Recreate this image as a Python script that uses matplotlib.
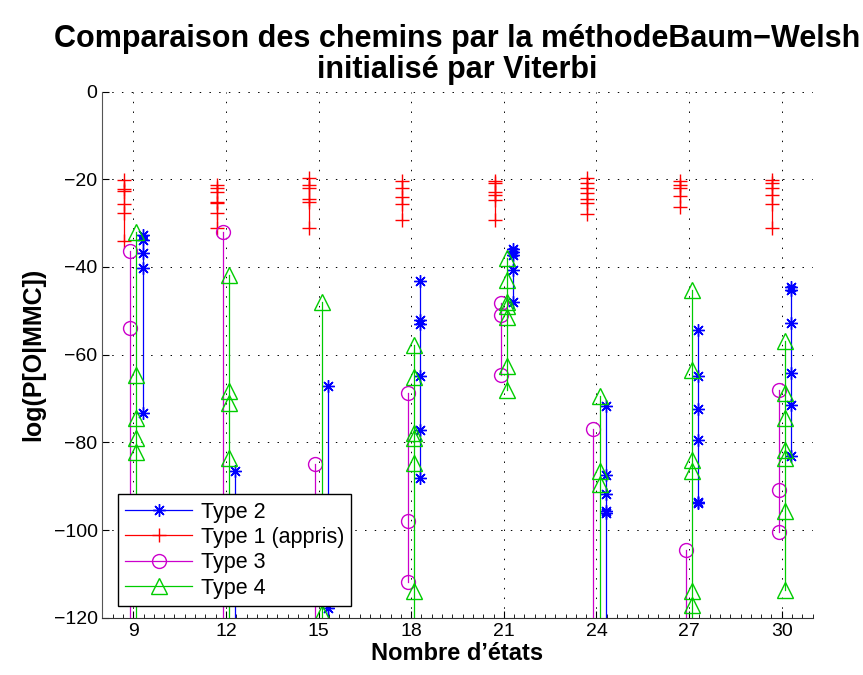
import matplotlib
matplotlib.use("Agg")
import matplotlib.pyplot as plt
from matplotlib.ticker import MultipleLocator

plt.rc('font', family='Liberation Sans', size=14)
plt.rc('xtick', labelsize=14)
plt.rc('ytick', labelsize=14)

""" nombre d'etats teste """
nb_etats = [9, 12, 15, 18, 21, 24, 27, 30]

""" log vraisemblance pour chaque type de chemin, une liste par nombre d'etats
(-150 : valeurs hors du graphe, sous -120) """
type2 = [[-32.7, -33.9, -36.9, -40.3, -73.3],
         [-86.5, -150],
         [-67.2, -117.7, -150],
         [-43.3, -52.1, -53.1, -64.8, -77.3, -88.1],
         [-36.0, -36.5, -37.3, -40.7, -48.0],
         [-71.7, -87.4, -91.9, -95.7, -96.1, -150],
         [-54.4, -64.8, -72.3, -79.4, -93.5, -93.9],
         [-44.5, -45.2, -52.8, -64.2, -71.4, -83.2]]

type1 = [[-20.2, -22.2, -22.7, -25.6, -27.7, -34.1],
         [-21.3, -22.1, -22.8, -25.1, -25.5, -27.6, -31.2],
         [-19.8, -21.3, -21.9, -24.5, -25.1, -31.0],
         [-20.4, -22.1, -24.0, -25.7, -29.3],
         [-20.4, -20.9, -22.8, -23.6, -24.7, -29.3],
         [-19.8, -20.9, -22.1, -23.2, -24.4, -25.5, -28.0],
         [-20.4, -21.3, -21.9, -23.8, -26.4],
         [-20.2, -20.9, -22.1, -23.6, -25.7, -31.0]]

type3 = [[-36.3, -54.0, -150],
         [-32.1, -150],
         [-84.9, -150],
         [-68.8, -98.0, -111.9],
         [-48.3, -50.9, -64.6],
         [-77.0, -150],
         [-104.6, -150],
         [-68.0, -90.9, -100.5]]

type4 = [[-32.1, -64.6, -74.5, -79.0, -82.2, -150],
         [-41.8, -68.4, -71.0, -83.6, -150],
         [-47.9, -119.0, -150],
         [-57.8, -65.2, -77.9, -79.0, -84.7, -113.9, -150],
         [-38.0, -43.0, -47.9, -49.0, -51.3, -62.7, -68.0],
         [-69.5, -86.6, -89.6, -150],
         [-45.3, -63.5, -84.0, -86.6, -113.9, -117.0, -150],
         [-57.0, -68.8, -74.5, -81.7, -83.6, -95.7, -113.6]]

labels = ['Type 2', 'Type 1 (appris)', 'Type 3', 'Type 4']

fig = plt.figure(figsize=(8.63, 6.75), dpi=100)
ax = fig.add_axes([0.1187, 0.0849, 0.8229, 0.7794])

# (donnees, decalage en x, couleur, marqueur, taille)
series = [(type2, 0.3, '#0000ff', (8, 2, 0), 9),
          (type1, -0.3, '#ff0000', '+', 10),
          (type3, -0.1, '#cc00cc', 'o', 10),
          (type4, 0.1, '#00cc00', '^', 11)]

for k, (data, dx, col, mk, ms) in enumerate(series):
    for i in range(len(nb_etats)):
        x = [nb_etats[i] + dx] * len(data[i])
        ax.plot(x, data[i], color=col, marker=mk, markersize=ms,
                markerfacecolor='none', markeredgecolor=col, lw=0.9,
                mew=1.0, label=labels[k] if i == 0 else None)

ax.set_xlim(8, 31)
ax.set_ylim(-120, 0)
ax.set_xticks(nb_etats)
ax.set_yticks([0, -20, -40, -60, -80, -100, -120])
ax.set_yticklabels(['0', '\u221220', '\u221240', '\u221260', '\u221280', '\u2212100', '\u2212120'])
ax.xaxis.set_minor_locator(MultipleLocator(1 / 3))
ax.tick_params(which='both', direction='in', top=False, right=False)
ax.tick_params(which='major', length=5)
ax.tick_params(which='minor', length=3)
ax.spines['top'].set_visible(False)
ax.spines['right'].set_visible(False)
ax.spines['left'].set_color('#555555')
ax.spines['bottom'].set_color('#333333')
ax.grid(True, color='black', linestyle=(0, (1.5, 8.5)), lw=0.7)
ax.set_axisbelow(True)

ax.set_title("Comparaison des chemins par la méthodeBaum\u2212Welsh\ninitialisé par Viterbi",
             fontsize=22, fontweight='bold', pad=10, linespacing=1.05)
ax.set_xlabel("Nombre d\u2019états", fontsize=17, fontweight='bold', labelpad=2)
ax.set_ylabel("log(P[O|MMC])", fontsize=18, fontweight='bold', labelpad=6)

leg = ax.legend(loc='lower left', bbox_to_anchor=(0.0215, 0.022), fontsize=15.5,
                handlelength=3.1, fancybox=False, framealpha=1, edgecolor='black',
                borderaxespad=0, labelspacing=0.2, handletextpad=0.4, borderpad=0.35)
leg.get_frame().set_linewidth(1.0)

fig.savefig('out.png', dpi=100)
